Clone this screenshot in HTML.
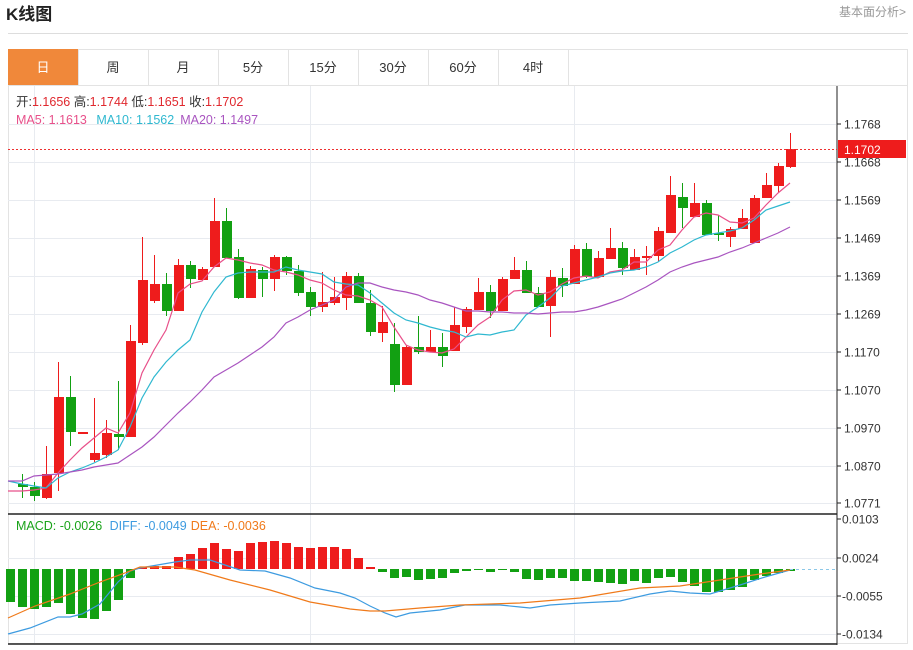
<!DOCTYPE html>
<html><head><meta charset="utf-8"><style>
body{margin:0;background:#fff;width:913px;height:645px;overflow:hidden;font-family:"Liberation Sans","Noto Sans CJK SC",sans-serif}
</style></head><body>
<svg id="s" width="913" height="645" xmlns="http://www.w3.org/2000/svg" font-family="Liberation Sans, Noto Sans CJK SC, sans-serif">
<text x="6" y="20" font-size="17" font-weight="bold" fill="#222">K线图</text>
<text x="906" y="16" font-size="12" fill="#999" text-anchor="end">基本面分析&gt;</text>
<line x1="8" y1="33.5" x2="908" y2="33.5" stroke="#ddd"/>
<rect x="8.5" y="49.5" width="899" height="594" fill="none" stroke="#e3e3e3"/>
<rect x="8" y="49" width="70" height="36" fill="#f0883a"/>
<g stroke="#e3e3e3"><line x1="78.5" y1="49" x2="78.5" y2="85"/><line x1="148.5" y1="49" x2="148.5" y2="85"/><line x1="218.5" y1="49" x2="218.5" y2="85"/><line x1="288.5" y1="49" x2="288.5" y2="85"/><line x1="358.5" y1="49" x2="358.5" y2="85"/><line x1="428.5" y1="49" x2="428.5" y2="85"/><line x1="498.5" y1="49" x2="498.5" y2="85"/><line x1="568.5" y1="49" x2="568.5" y2="85"/><line x1="8" y1="85.5" x2="908" y2="85.5"/></g>
<g font-size="13" text-anchor="middle" fill="#333"><text x="43" y="72" fill="#fff">日</text><text x="113" y="72">周</text><text x="183" y="72">月</text><text x="253" y="72">5分</text><text x="323" y="72">15分</text><text x="393" y="72">30分</text><text x="463" y="72">60分</text><text x="533" y="72">4时</text></g>
<g id="g"></g>
<g font-size="12.5"><text x="16" y="106" fill="#333">开:<tspan fill="#e0282e">1.1656</tspan>  高:<tspan fill="#e0282e">1.1744</tspan>  低:<tspan fill="#e0282e">1.1651</tspan>  收:<tspan fill="#e0282e">1.1702</tspan></text>
<text x="16" y="124" fill="#e8508a">MA5: 1.1613 <tspan fill="#2fb8d0" dx="6">MA10: 1.1562</tspan><tspan fill="#a955c0" dx="6">MA20: 1.1497</tspan></text>
<text x="16" y="530" fill="#1aa31a">MACD: -0.0026 <tspan fill="#3d9be0" dx="4">DIFF: -0.0049</tspan><tspan fill="#f07a1a" dx="4">DEA: -0.0036</tspan></text></g>
</svg>
<script>
var g=document.getElementById('g'),h='';
function L(x1,y1,x2,y2,c,w,extra){h+='<line x1="'+x1+'" y1="'+y1+'" x2="'+x2+'" y2="'+y2+'" stroke="'+c+'" stroke-width="'+(w||1)+'" '+(extra||'')+'/>';}
var ys=[124,162,200,238,276,314,352,390,428,466,503],lb=['1.1768','1.1668','1.1569','1.1469','1.1369','1.1269','1.1170','1.1070','1.0970','1.0870','1.0771'];
ys.forEach(function(y){L(8,y+.5,836,y+.5,'#e8ebf0');});
[34,310,574].forEach(function(x){L(x+.5,86,x+.5,644,'#e8ebf0');});
[558,596,634].forEach(function(y){L(8,y+.5,836,y+.5,'#e8ebf0');});
L(8,514,837,514,'#222',1.5);L(8,644,837,644,'#222',1.5);
L(837,86,837,645,'#222',1);
ys.forEach(function(y,i){L(837,y,841,y,'#222');h+='<text x="844" y="'+(y+4.5)+'" font-size="12" fill="#333">'+lb[i]+'</text>';});
[[519,'0.0103'],[558,'0.0024'],[596,'-0.0055'],[634,'-0.0134']].forEach(function(a){L(837,a[0],841,a[0],'#222');h+='<text x="842" y="'+(a[0]+4.5)+'" font-size="12" fill="#333">'+a[1]+'</text>';});
// candles: [x? index, color(1 red,0 green), top, bottom, high, low]
var C=[[0,484,487,474,498],[0,487,496,482,501],[1,474,498,446,499],[1,397,473,362,491],[0,397,432,376,446],[1,432,434,432,434],[1,453,460,398,462],[1,433,455,420,458],[0,434,437,381,450],[1,341,437,325,437],[1,280,343,237,345],[1,284,301,255,303],[0,284,311,273,316],[1,265,311,259,311],[0,265,279,261,288],[1,269,280,267,280],[1,221,267,198,267],[0,221,258,208,258],[0,257,298,249,299],[1,269,298,266,298],[0,270,279,267,297],[1,257,279,255,291],[0,257,271,256,275],[0,271,293,265,296],[0,292,307,287,316],[1,302,307,272,312],[1,297,303,277,305],[1,276,298,272,310],[0,276,303,273,303],[0,303,332,290,336],[1,322,333,306,342],[0,344,385,323,392],[1,347,385,345,385],[0,347,352,316,354],[1,347,352,330,352],[0,347,356,333,367],[1,325,351,307,351],[1,309,327,307,333],[1,292,310,278,310],[0,292,311,285,318],[1,279,311,277,311],[1,270,279,257,279],[0,270,293,261,293],[0,293,307,287,307],[1,277,306,270,337],[0,278,286,268,297],[1,249,284,245,284],[0,249,277,243,278],[1,258,277,251,277],[1,248,259,228,259],[0,248,268,242,275],[1,257,270,249,270],[1,256,258,246,275],[1,231,256,227,262],[1,195,233,176,233],[0,197,208,183,228],[1,203,217,183,217],[0,203,235,200,235],[0,233,235,215,241],[1,229,237,227,247],[1,218,229,209,229],[1,198,243,195,243],[1,185,198,173,198],[1,166,186,163,192],[1,149,167,133,168]];
C.forEach(function(c,i){var x=22+12*i,col=c[0]?'#ee1c1c':'#12a012';L(x+.5,c[3],x+.5,c[4],col);h+='<rect x="'+(x-4)+'" y="'+c[1]+'" width="10" height="'+Math.max(2,c[2]-c[1])+'" fill="'+col+'"/>';});
function P(pts,c){h+='<polyline fill="none" stroke="'+c+'" stroke-width="1.2" points="'+pts+'"/>';}
P('8,491 22,491 34,490 46,488 58,473 70,460 82,448 94,438 106,428 118,433 130,413 142,373 154,350 166,330 178,293 190,284 202,281 214,267 226,258 238,260 250,263 262,265 274,270 286,272 298,275 310,280 322,283 334,290 346,295 358,296 370,300 382,307 394,327 406,345 418,350 430,352 442,353 454,349 466,337 478,325 490,317 502,300 514,291 526,290 538,295 550,292 562,284 574,278 586,276 598,278 610,272 622,270 634,262 646,262 658,250 670,245 682,230 694,217 706,213 718,215 730,222 742,223 754,218 766,205 778,193 790,183','#e8508a');
P('8,481 22,484 34,486 46,488 58,478 70,472 82,468 94,463 106,457 118,450 130,427 142,398 154,377 166,362 178,350 190,340 202,312 214,292 226,277 238,273 250,272 262,272 274,272 286,267 298,270 310,272 322,274 334,282 346,284 358,285 370,293 382,303 394,313 406,320 418,323 430,327 442,330 454,332 466,337 478,334 490,335 502,332 514,330 526,315 538,307 550,298 562,286 574,283 586,280 598,277 610,273 622,271 634,270 646,267 658,262 670,253 682,247 694,240 706,235 718,233 730,231 742,228 754,220 766,210 778,206 790,202','#2fb8d0');
P('8,481 22,481 34,476 46,475 58,474 70,472 82,470 94,467 106,465 118,463 130,455 142,447 154,437 166,425 178,413 190,402 202,390 214,377 226,370 238,363 250,355 262,347 274,337 286,323 298,317 310,310 322,305 334,300 346,287 358,283 370,283 382,287 394,290 406,292 418,295 430,300 442,303 454,307 466,311 478,311 490,312 502,312 514,313 526,313 538,314 550,313 562,312 574,312 586,310 598,307 610,303 622,299 634,293 646,287 658,280 670,272 682,267 694,263 706,260 718,257 730,252 742,248 754,243 766,238 778,233 790,227','#a955c0');
L(8,149.5,837,149.5,'#ee3030',1,'stroke-dasharray="2,2"');
h+='<rect x="838" y="140" width="68" height="18" fill="#ee1c1c"/><text x="844" y="154" font-size="12" fill="#fff">1.1702</text>';
// MACD bars
var M=[602,607,609,607,603,614,618,619,611,600,578,567,566,566,557,554,548,543,549,551,543,542,541,543,547,548,547,547,549,558,567,572,578,577,580,579,578,573,571,570,572,570,572,579,580,578,578,581,581,582,583,584,581,583,578,577,582,586,592,592,590,587,580,576,573,571];
M.forEach(function(y,i){var x=10+12*i,z=569;var red=y<z;h+='<rect x="'+(x-4)+'" y="'+Math.min(y,z)+'" width="9" height="'+Math.max(1,Math.abs(y-z))+'" fill="'+(red?'#ee1c1c':'#12a012')+'"/>';});
L(790,569.5,836,569.5,'#8cc8e8',1,'stroke-dasharray="3,3"');
P('8,634 30,628 58,617 70,617 82,614 100,604 118,582 130,571 140,568 175,562 190,560 210,560 240,570 265,571 290,578 315,588 340,593 355,598 370,606 385,613 396,617 410,613 440,610 465,605 500,605 520,607 530,608 550,605 580,603 620,601 650,594 670,591 690,593 710,594 740,585 765,577 790,570','#3d9be0');
P('8,618 35,606 70,594 100,582 125,573 140,567 175,567 195,570 230,580 270,590 310,602 350,609 370,611 385,611 420,608 460,605 520,603 580,598 640,588 680,586 720,580 760,574 790,570','#f07a1a');
g.innerHTML=h;
</script>
</body></html>
